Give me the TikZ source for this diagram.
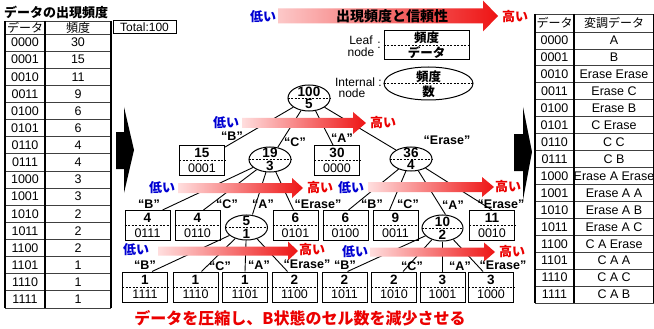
\documentclass[tikz,border=0pt]{standalone}
\usepackage{fontspec}
\setmainfont{Liberation Sans}
\newfontfamily\jp{Noto Sans CJK JP}
\usetikzlibrary{shapes.geometric,calc}
\definecolor{lowblue}{RGB}{0,0,210}
\definecolor{highred}{RGB}{235,0,0}
\definecolor{pinkL}{RGB}{255,222,222}
\definecolor{bannerL}{RGB}{252,200,200}
\definecolor{redR}{RGB}{238,20,20}
\tikzset{
  leafbox/.style={draw, line width=1pt, rectangle, minimum width=45pt, minimum height=30pt, inner sep=0pt},
  intnode/.style={draw, line width=1pt, ellipse, inner sep=0pt},
  lnum/.style={font=\fontsize{13.5}{13.5}\selectfont\bfseries, inner sep=0pt},
  lcode/.style={font=\fontsize{12.5}{12.5}\selectfont, inner sep=0pt},
  elab/.style={font=\fontsize{12.5}{12.5}\selectfont\bfseries, inner sep=0pt},
  lo/.style={font=\jp\fontsize{13}{13}\selectfont\bfseries, text=lowblue, inner sep=0pt},
  hi/.style={font=\jp\fontsize{13}{13}\selectfont\bfseries, text=highred, inner sep=0pt},
  edge/.style={line width=0.9pt},
  tbl/.style={font=\fontsize{12.5}{12.5}\selectfont, inner sep=0pt},
  jtbl/.style={font=\jp\fontsize{12}{12}\selectfont, inner sep=0pt},
  rowline/.style={line width=0.8pt, black!75},
  colline/.style={line width=1.1pt},
  divider/.style={dashed, line width=0.7pt, dash pattern=on 2pt off 1.5pt},
}
\newcommand{\leafnd}[5]{%
  \node[leafbox] (#1) at (#2,#3) {};
  \draw[divider] (#1.west) -- (#1.east);
  \node[lnum] (#1-t) at ([yshift=7.5pt]#1.center) {#4};
  \node[lcode] (#1-b) at ([yshift=-7.5pt]#1.center) {#5};
}
\newcommand{\intnd}[7]{%
  \node[intnode, minimum width=#4pt, minimum height=#5pt] (#1) at (#2,#3) {};
  \draw[divider] (#1.west) -- (#1.east);
  \node[lnum] (#1-t) at ([yshift=6.3pt]#1.center) {#6};
  \node[lnum] (#1-b) at ([yshift=-6.3pt]#1.center) {#7};
}
% gradient arrow: x-start, head-base, tip, y-center, body half, head half, left colour
\newcommand{\garrow}[7]{%
  \shade[left color=#7, right color=redR]
    ({#1},{#4-#5}) -- ({#2},{#4-#5}) -- ({#2},{#4-#6}) -- ({#3},{#4}) --
    ({#2},{#4+#6}) -- ({#2},{#4+#5}) -- ({#1},{#4+#5}) -- cycle;
}
\begin{document}
\begin{tikzpicture}[x=1pt,y=-1pt]
\useasboundingbox (0,0) rectangle (654,329);
\fill[white] (0,0) rectangle (654,329);

% ---------- left table ----------
\node[font=\jp\fontsize{13}{13}\selectfont\bfseries, anchor=west, inner sep=0pt] (ltitle) at (4,12) {データの出現頻度};
\foreach \k in {0,...,16} {
  \draw[rowline] (5,{34+17.125*\k}) -- (111,{34+17.125*\k});
}
\draw[rowline] (5,21) -- (111,21);
\draw[colline] (5,21) -- (5,308);
\draw[colline] (45,21) -- (45,308);
\draw[colline] (111,21) -- (111,308);
\node[jtbl] (lh1) at (25,27.5) {データ};
\node[jtbl] (lh2) at (78,27.5) {頻度};
\node[draw, line width=1pt, minimum width=63pt, minimum height=13pt, inner sep=0pt, font=\fontsize{12}{12}\selectfont] (total) at (144.5,27.5) {Total:100};
\foreach \c/\f [count=\i from 0] in {0000/30,0001/15,0010/11,0011/9,0100/6,0101/6,0110/4,0111/4,1000/3,1001/3,1010/2,1011/2,1100/2,1101/1,1110/1,1111/1} {
  \node[tbl] (lc\i) at (25,{34+17.125*(\i+0.5)}) {\c};
  \node[tbl] (lf\i) at (78,{34+17.125*(\i+0.5)}) {\f};
}

% ---------- right table ----------
\foreach \k in {0,...,16} {
  \draw[rowline] (535,{32+16.94*\k}) -- (654,{32+16.94*\k});
}
\draw[rowline] (535,14) -- (654,14);
\draw[colline] (535,14) -- (535,303);
\draw[colline] (574,14) -- (574,303);
\draw[colline] (653.5,14) -- (653.5,303);
\node[jtbl] (rh1) at (554.5,23) {データ};
\node[jtbl] (rh2) at (614,23) {変調データ};
\foreach \c/\v [count=\i from 0] in {0000/A,0001/B,0010/Erase Erase,0011/Erase C,0100/Erase B,0101/C Erase,0110/C C,0111/C B,1000/Erase A Erase,1001/Erase A A,1010/Erase A B,1011/Erase A C,1100/C A Erase,1101/C A A,1110/C A C,1111/C A B} {
  \node[tbl] (rc\i) at (554.5,{32+16.94*(\i+0.5)}) {\c};
  \node[tbl] (rv\i) at (614,{32+16.94*(\i+0.5)}) {\v};
}

% ---------- big black arrows ----------
\fill (116,132) -- (124,132) -- (124,107) -- (134,150) -- (124,193) -- (124,169) -- (116,169) -- cycle;
\fill (514,134) -- (523,134) -- (523,107) -- (532,152) -- (523,200) -- (523,171) -- (514,171) -- cycle;

% ---------- banner ----------
\garrow{278}{483}{498}{16}{7.5}{15.5}{bannerL}
\node[font=\jp\fontsize{14}{14}\selectfont\bfseries, inner sep=0pt] (banner) at (392,16) {出現頻度と信頼性};
\node[lo] (blo) at (263,17) {低い};
\node[hi] (bhi) at (515,17) {高い};

% ---------- legend ----------
\node[font=\fontsize{12}{12}\selectfont, inner sep=0pt] (lgl1) at (361,40) {Leaf};
\node[font=\fontsize{12}{12}\selectfont, inner sep=0pt] (lgl2) at (361,52) {node};
\node[font=\fontsize{12}{12}\selectfont, inner sep=0pt] (lgc1) at (379,45) {:};
\node[draw, line width=1pt, minimum width=85pt, minimum height=29pt, inner sep=0pt] (lgbox) at (426.5,45.5) {};
\draw[divider] (lgbox.west) -- (lgbox.east);
\node[font=\jp\fontsize{12.5}{12.5}\selectfont\bfseries, inner sep=0pt] (lgbt) at (426.5,38) {頻度};
\node[font=\jp\fontsize{12.5}{12.5}\selectfont\bfseries, inner sep=0pt] (lgbb) at (426.5,53) {データ};
\node[font=\fontsize{12}{12}\selectfont, inner sep=0pt, anchor=east] (lgi1) at (382,82) {Internal :};
\node[font=\fontsize{12}{12}\selectfont, inner sep=0pt] (lgi2) at (352,93) {node};
\node[intnode, minimum width=89pt, minimum height=33pt] (lgell) at (428.5,83.5) {};
\draw[divider] (lgell.west) -- (lgell.east);
\node[font=\jp\fontsize{12.5}{12.5}\selectfont\bfseries, inner sep=0pt] (lget) at (428.5,77) {頻度};
\node[font=\jp\fontsize{12.5}{12.5}\selectfont\bfseries, inner sep=0pt] (lgeb) at (428.5,92) {数};

% ---------- tree nodes ----------
\intnd{R}{309}{98}{42}{26}{100}{5}
\leafnd{b15}{202}{160.5}{15}{0001}
\intnd{n19}{270}{159.5}{42}{25}{19}{3}
\leafnd{b30}{337}{160.5}{30}{0000}
\intnd{n36}{411}{159}{42}{24}{36}{4}

\leafnd{b0111}{147.5}{225.5}{4}{0111}
\leafnd{b0110}{197.5}{225.5}{4}{0110}
\intnd{n5}{246.5}{227.5}{42}{25}{5}{1}
\leafnd{b0101}{295.5}{225.5}{6}{0101}
\leafnd{b0100}{345.5}{225.5}{6}{0100}
\leafnd{b0011}{395.5}{225.5}{9}{0011}
\intnd{n10}{442.5}{228}{41}{26}{10}{2}
\leafnd{b0010}{492}{225.5}{11}{0010}

\leafnd{b1111}{145}{287}{1}{1111}
\leafnd{b1110}{195.5}{287}{1}{1110}
\leafnd{b1101}{245}{287}{1}{1101}
\leafnd{b1100}{294.5}{287}{2}{1100}
\leafnd{b1011}{344.5}{287}{2}{1011}
\leafnd{b1010}{394}{287}{2}{1010}
\leafnd{b1001}{442.5}{287}{3}{1001}
\leafnd{b1000}{491}{287}{3}{1000}

% ---------- edges ----------
\draw[edge] (R) -- (b15);
\draw[edge] (R) -- (n19);
\draw[edge] (R) -- ([xshift=-4pt]b30.north);
\draw[edge] (R) -- (n36);
\draw[edge] (n19) -- ([xshift=15pt]b0111.north);
\draw[edge] (n19) -- ([xshift=6pt]b0110.north);
\draw[edge] (n19) -- ([xshift=6pt]n5.north);
\draw[edge] (n19) -- ([xshift=-2pt]b0101.north);
\draw[edge] (n36) -- ([xshift=3pt]b0100.north);
\draw[edge] (n36) -- ([xshift=-6pt]b0011.north);
\draw[edge] (n36) -- ([xshift=3pt]n10.north);
\draw[edge] (n36) -- (b0010.north);
\draw[edge] (n5) -- ([xshift=7pt]b1111.north);
\draw[edge] (n5) -- ([xshift=6pt]b1110.north);
\draw[edge] (n5) -- (b1101.north);
\draw[edge] (n5) -- ([xshift=-7pt]b1100.north);
\draw[edge] (n10) -- ([xshift=3pt]b1011.north);
\draw[edge] (n10) -- ([xshift=9pt]b1010.north);
\draw[edge] (n10) -- (b1001.north);
\draw[edge] (n10) -- ([xshift=-8pt]b1000.north);

% ---------- gradient arrows in tree ----------
\garrow{242}{353}{366}{123}{5}{11}{pinkL}
\garrow{178}{292}{303}{188}{5}{10}{pinkL}
\garrow{368}{482}{494}{187}{5}{10}{pinkL}
\garrow{158}{288}{298}{251}{4.5}{9.5}{pinkL}
\garrow{370}{484}{495}{252}{4.5}{9.5}{pinkL}
\node[lo] (lo1) at (226,123) {低い};
\node[hi] (hi1) at (383,123) {高い};
\node[lo] (lo2) at (162,188) {低い};
\node[hi] (hi2) at (320,188) {高い};
\node[lo] (lo3) at (351,188) {低い};
\node[hi] (hi3) at (508,187) {高い};
\node[lo] (lo4) at (136,250) {低い};
\node[hi] (hi4) at (312,250) {高い};
\node[lo] (lo5) at (355,252) {低い};
\node[hi] (hi5) at (512,252) {高い};

% ---------- edge labels ----------
\node[elab] (eRb) at (232,136) {“B”};
\node[elab] (eRc) at (295,142) {“C”};
\node[elab] (eRa) at (342,138) {“A”};
\node[elab] (eRe) at (447,140) {“Erase”};
\node[elab] (e19b) at (149,204) {“B”};
\node[elab] (e19c) at (227,204) {“C”};
\node[elab] (e19a) at (263,204) {“A”};
\node[elab] (e19e) at (318,204) {“Erase”};
\node[elab] (e36b) at (372,204) {“B”};
\node[elab] (e36c) at (408,204) {“C”};
\node[elab] (e36a) at (453,205) {“A”};
\node[elab] (e36e) at (501,204) {“Erase”};
\node[elab] (e5b) at (145,265) {“B”};
\node[elab] (e5c) at (220,266) {“C”};
\node[elab] (e5a) at (259,265) {“A”};
\node[elab] (e5e) at (307,264) {“Erase”};
\node[elab] (e10b) at (345,265) {“B”};
\node[elab] (e10c) at (412,266) {“C”};
\node[elab] (e10a) at (460,266) {“A”};
\node[elab] (e10e) at (503,265) {“Erase”};

% ---------- bottom caption ----------
\node[font=\jp\fontsize{16}{16}\selectfont\bfseries, text=highred, inner sep=0pt] (caption) at (300,318) {データを圧縮し、B状態のセル数を減少させる};
\end{tikzpicture}
\end{document}
